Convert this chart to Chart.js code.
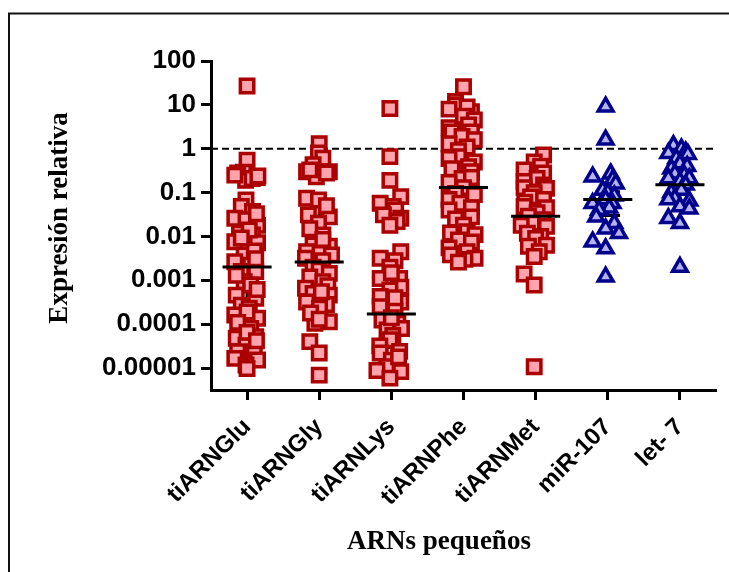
<!DOCTYPE html>
<html>
<head>
<meta charset="utf-8">
<title>Expresión relativa de ARNs pequeños</title>
<script src="https://cdn.jsdelivr.net/npm/chart.js@4.4.1/dist/chart.umd.min.js"></script>
<style>
    html, body { margin: 0; padding: 0; background: #fff; overflow: hidden; }
    #wrap { width: 729px; height: 572px; }
</style>
</head>
<body>
<div id="wrap"><canvas id="chart-area" width="729" height="572"></canvas></div>
<script>
var categories = ["tiARNGlu", "tiARNGly", "tiARNLys", "tiARNPhe", "tiARNMet", "miR-107", "let- 7"];
var yTicks = [100, 10, 1, 0.1, 0.01, 0.001, 0.0001, 0.00001];
var refLevel = 1;

// relative expression per sample, plus horizontal spread inside each column
var gluValues = [27, 0.55, 0.29, 0.28, 0.22, 0.19, 0.21, 0.25, 0.24,
    0.068, 0.048, 0.037, 0.026, 0.024, 0.018, 0.0118, 0.0108, 0.0076, 0.0064,
    0.0072, 0.0038, 0.0047, 0.00265, 0.0022, 0.0016, 0.00158, 0.00093, 0.00078, 0.00046,
    0.00039, 0.00027, 0.00023, 0.000162, 0.000136, 0.000096, 0.00008, 0.000052, 0.000048, 0.000033,
    0.0000235, 0.0000235, 0.0000166, 0.0000152, 0.0000117, 0.0000098,
    0.033, 0.014, 0.0092, 0.0031, 0.0013, 0.00062, 0.00019, 0.00011, 0.000065, 0.000042];
var gluJitter = [0, 0, -0.05, -0.13, 0.14, -0.02, 0.07, -0.17, 0.15,
    -0.015, -0.08, 0.075, -0.17, -0.015, 0.145, -0.105, 0.075, -0.17, 0.01,
    0.145, -0.04, 0.10, -0.17, 0.05, -0.08, 0.12, -0.04, 0.05, -0.15,
    0.12, -0.08, 0.03, -0.17, 0.145, -0.06, 0.05, 0.12, -0.15, -0.015,
    -0.13, 0.10, -0.17, 0.145, -0.015, 0.0,
    0.13, 0.03, -0.08, 0.12, -0.15, 0.14, 0.0, -0.13, 0.0, 0.13];

var glyValues = [1.3, 0.8, 0.61, 0.43, 0.30, 0.30, 0.23, 0.33, 0.28,
    0.074, 0.068, 0.031, 0.028, 0.020, 0.0108, 0.0064, 0.006, 0.0041, 0.0045,
    0.0032, 0.0038, 0.0028, 0.002, 0.0017, 0.00144, 0.0012, 0.00093, 0.00075, 0.00066,
    0.0005, 0.00046, 0.00032, 0.00028, 0.00023, 0.000114, 0.000105, 0.00004, 0.000022, 0.0000069,
    0.05, 0.015, 0.0085, 0.00055, 0.00018, 0.00013];
var glyJitter = [0, -0.01, 0.05, -0.085, 0.14, -0.175, -0.04, -0.13, 0.10,
    -0.175, -0.01, -0.15, 0.14, -0.01, 0.05, -0.085, 0.14, -0.01, -0.175,
    -0.19, 0.17, 0.05, -0.085, 0.0, 0.14, -0.13, 0.05, 0.12, -0.19,
    -0.085, 0.14, -0.175, 0.10, 0.005, 0.14, -0.06, -0.13, 0.0, 0.0,
    0.1, -0.13, 0.05, 0.03, -0.12, 0.0];

var lysValues = [8.3, 0.66, 0.19, 0.081, 0.057, 0.048, 0.04, 0.031, 0.026, 0.022, 0.018,
    0.0045, 0.0032, 0.0028, 0.002, 0.0011, 0.0011, 0.0007, 0.0006, 0.00043, 0.00032,
    0.00025, 0.0002, 0.000125, 0.000105, 0.00008, 0.000074, 0.000055, 0.000044, 0.000032, 0.000024,
    0.000022, 0.000015, 0.0000107, 0.0000088, 0.0000083, 0.0000059,
    0.0015, 0.0004, 0.00014, 0.000018];
var lysJitter = [-0.02, -0.02, -0.02, 0.13, -0.155, 0.025, 0.06, -0.11, 0.13, 0.08, -0.02,
    0.13, -0.155, 0.05, -0.02, -0.155, 0.115, 0.13, -0.02, -0.155, 0.13,
    -0.155, 0.05, -0.13, 0.09, 0.14, -0.06, 0.02, -0.02, -0.16, 0.115,
    -0.155, 0.0, -0.065, -0.2, 0.13, -0.02,
    0.0, 0.05, 0.0, 0.1];

var pheValues = [26, 12, 10, 8, 7, 9, 5.5, 4.5, 3.5, 3, 2.4, 2.4, 1.9, 1.6, 1.3, 1.1,
    0.9, 0.66, 0.6, 0.5, 0.39, 0.35, 0.3, 0.21, 0.22, 0.17, 0.13,
    0.096, 0.09, 0.07, 0.057, 0.04, 0.045, 0.028, 0.025, 0.018, 0.0128,
    0.012, 0.011, 0.0083, 0.0075, 0.0055, 0.0045, 0.0038, 0.0032, 0.003, 0.0026];
var pheJitter = [0, -0.11, -0.11, -0.2, 0.11, 0.05, 0, 0.15, 0.07, -0.2, -0.16, 0.11, -0.02, 0.15, -0.2, 0.05,
    -0.07, -0.07, -0.2, 0.15, 0.07, -0.16, 0.11, -0.02, 0.11, -0.2, 0,
    -0.11, 0.15, -0.2, -0.05, -0.2, 0.11, 0.11, -0.11, 0, 0.05,
    -0.18, 0.16, -0.07, 0.11, -0.2, 0.05, -0.18, 0.16, 0.02, -0.07];

var metValues = [0.72, 0.5, 0.4, 0.33, 0.28, 0.21, 0.18, 0.15, 0.125, 0.13,
    0.1, 0.08, 0.07, 0.06, 0.048, 0.045, 0.035, 0.029, 0.024, 0.02,
    0.018, 0.017, 0.0118, 0.01, 0.009, 0.0063, 0.006, 0.0045, 0.0035, 0.0014,
    0.00078, 0.0000107];
var metJitter = [0.11, -0.02, 0.07, -0.16, 0.11, 0.02, -0.16, 0.11, 0.15, -0.16,
    -0.02, -0.07, 0.11, -0.15, -0.16, 0.15, 0.02, -0.1, 0.1, -0.05,
    -0.2, 0.15, -0.115, 0.07, 0, 0.15, -0.1, 0.05, -0.02, -0.16,
    -0.02, -0.02];

var mirValues = [9.1, 1.6, 0.27, 0.23, 0.2, 0.16, 0.114, 0.1, 0.085, 0.07,
    0.057, 0.057, 0.045, 0.04, 0.028, 0.02, 0.015, 0.0118, 0.0076, 0.0053, 0.0012];
var mirJitter = [-0.03, -0.03, 0.04, -0.21, 0.07, 0.11, -0.07, 0, 0.09, -0.03,
    0.065, -0.21, 0.02, -0.12, -0.16, 0.09, -0.03, 0.155, -0.21, -0.03, -0.03];

var letValues = [1.2, 1.0, 0.85, 0.79, 0.75, 0.6, 0.46, 0.4, 0.35, 0.27,
    0.25, 0.21, 0.21, 0.18, 0.15, 0.114, 0.1, 0.074, 0.07, 0.065,
    0.048, 0.043, 0.026, 0.02, 0.002];
var letJitter = [-0.09, 0.02, 0.08, -0.16, 0.11, -0.05, 0, 0.1, -0.12, -0.07,
    0.06, -0.16, 0.13, 0, 0.08, 0.02, -0.12, -0.07, -0.16, 0.13,
    0, 0.13, -0.16, 0, 0];

// median and spread per group
var medians = [0.002, 0.0026, 0.00017, 0.13, 0.029, 0.07, 0.15];
var whiskerHigh = [0.02, 0.068, 0.0014, 1.2, 0.1, 0.105, 0.39];
var whiskerLow = [0.00005, 0.0002, 0.00003, 0.02, 0.006, 0.03, 0.06];

var columns = [
    [gluValues, gluJitter], [glyValues, glyJitter], [lysValues, lysJitter],
    [pheValues, pheJitter], [metValues, metJitter], [mirValues, mirJitter], [letValues, letJitter]
];

var redFill = "#FFA3AD", redEdge = "#AA0000";
var blueFill = "#B3B3F2", blueEdge = "#00008C";
var tickFont = "'Liberation Sans', Arial, sans-serif";
var titleFont = "'Liberation Serif', 'Times New Roman', serif";

function columnPoints(idx, values, jitter) {
    return values.map(function (v, k) {
        return { x: idx + jitter[k], y: v };
    });
}

var datasets = columns.map(function (col, i) {
    var blue = i >= 5;
    return {
        label: categories[i],
        data: columnPoints(i, col[0], col[1]),
        showLine: false,
        pointStyle: blue ? "triangle" : "rect",
        pointRadius: blue ? 8.5 : 9.5,
        pointHoverRadius: blue ? 8.5 : 9.5,
        pointBorderWidth: 3.5,
        pointBackgroundColor: blue ? blueFill : redFill,
        pointBorderColor: blue ? blueEdge : redEdge
    };
});

// white page and the outer box
var framePlugin = {
    id: "frame",
    beforeDraw: function (chart) {
        var c = chart.ctx;
        c.save();
        c.fillStyle = "#fff";
        c.fillRect(0, 0, chart.width, chart.height);
        c.strokeStyle = "#111";
        c.lineWidth = 2;
        c.strokeRect(9, 13.5, chart.width + 40, chart.height + 40);
        c.restore();
    }
};

// dashed reference at 1 and the spread bars, under the points
var underPlugin = {
    id: "under",
    beforeDatasetsDraw: function (chart) {
        var c = chart.ctx, a = chart.chartArea;
        var xs = chart.scales.x, ys = chart.scales.y;
        var y1 = ys.getPixelForValue(refLevel);
        c.save();
        c.strokeStyle = "#000";
        c.lineWidth = 2;
        c.setLineDash([7, 4]);
        c.beginPath();
        c.moveTo(a.left, y1);
        c.lineTo(a.right, y1);
        c.stroke();
        c.setLineDash([]);
        c.lineWidth = 3;
        for (var i = 0; i < categories.length; i++) {
            var x = xs.getPixelForValue(i);
            var hi = ys.getPixelForValue(whiskerHigh[i]);
            var lo = ys.getPixelForValue(whiskerLow[i]);
            var l = xs.getPixelForValue(i - 0.17), r = xs.getPixelForValue(i + 0.17);
            c.beginPath();
            c.moveTo(x, hi); c.lineTo(x, lo);
            c.moveTo(l, hi); c.lineTo(r, hi);
            c.moveTo(l, lo); c.lineTo(r, lo);
            c.stroke();
        }
        c.restore();
    }
};

// median bars on top of the points
var medianPlugin = {
    id: "medians",
    afterDatasetsDraw: function (chart) {
        var c = chart.ctx, xs = chart.scales.x, ys = chart.scales.y;
        c.save();
        c.strokeStyle = "#000";
        c.lineWidth = 3;
        medians.forEach(function (m, i) {
            var y = ys.getPixelForValue(m);
            c.beginPath();
            c.moveTo(xs.getPixelForValue(i - 0.34), y);
            c.lineTo(xs.getPixelForValue(i + 0.34), y);
            c.stroke();
        });
        c.restore();
    }
};

// axis titles in bold serif
var titlePlugin = {
    id: "axisTitles",
    afterDraw: function (chart) {
        var c = chart.ctx;
        c.save();
        c.fillStyle = "#000";
        c.font = "bold 27px " + titleFont;
        c.textAlign = "center";
        c.textBaseline = "alphabetic";
        c.fillText("ARNs pequeños", 439, 549);
        c.translate(67, 218);
        c.rotate(-Math.PI / 2);
        c.fillText("Expresión relativa", 0, 0);
        c.restore();
    }
};

var axisLine = { display: true, color: "#000", width: 3 };
var tickMarks = { drawOnChartArea: false, drawTicks: true, tickLength: 10, tickWidth: 3, tickColor: "#000" };

var ctx = document.getElementById("chart-area").getContext("2d");
var myGraph = new Chart(ctx, {
    type: "scatter",
    data: { datasets: datasets },
    plugins: [framePlugin, underPlugin, medianPlugin, titlePlugin],
    options: {
        responsive: false,
        animation: false,
        devicePixelRatio: 1,
        events: [],
        layout: { padding: { top: 61, right: 4, bottom: 0, left: 0 } },
        plugins: {
            legend: { display: false },
            tooltip: { enabled: false }
        },
        scales: {
            x: {
                type: "linear",
                min: -0.5,
                max: 6.5,
                afterBuildTicks: function (scale) {
                    scale.ticks = categories.map(function (c, i) { return { value: i }; });
                },
                afterFit: function (scale) { scale.height = 182; },
                ticks: {
                    autoSkip: false,
                    minRotation: 45,
                    maxRotation: 45,
                    padding: 13,
                    color: "#000",
                    font: { family: tickFont, size: 24, weight: "bold" },
                    callback: function (v) { return categories[v]; }
                },
                grid: tickMarks,
                border: axisLine
            },
            y: {
                type: "logarithmic",
                min: 3.16e-6,
                max: 100,
                afterBuildTicks: function (scale) {
                    scale.ticks = yTicks.map(function (v) { return { value: v }; });
                },
                afterFit: function (scale) { scale.width = 211; },
                ticks: {
                    autoSkip: false,
                    padding: 5,
                    color: "#000",
                    font: { family: tickFont, size: 26, weight: "bold" },
                    callback: function (v) { return String(v); }
                },
                grid: tickMarks,
                border: axisLine
            }
        }
    }
});
</script>
</body>
</html>
